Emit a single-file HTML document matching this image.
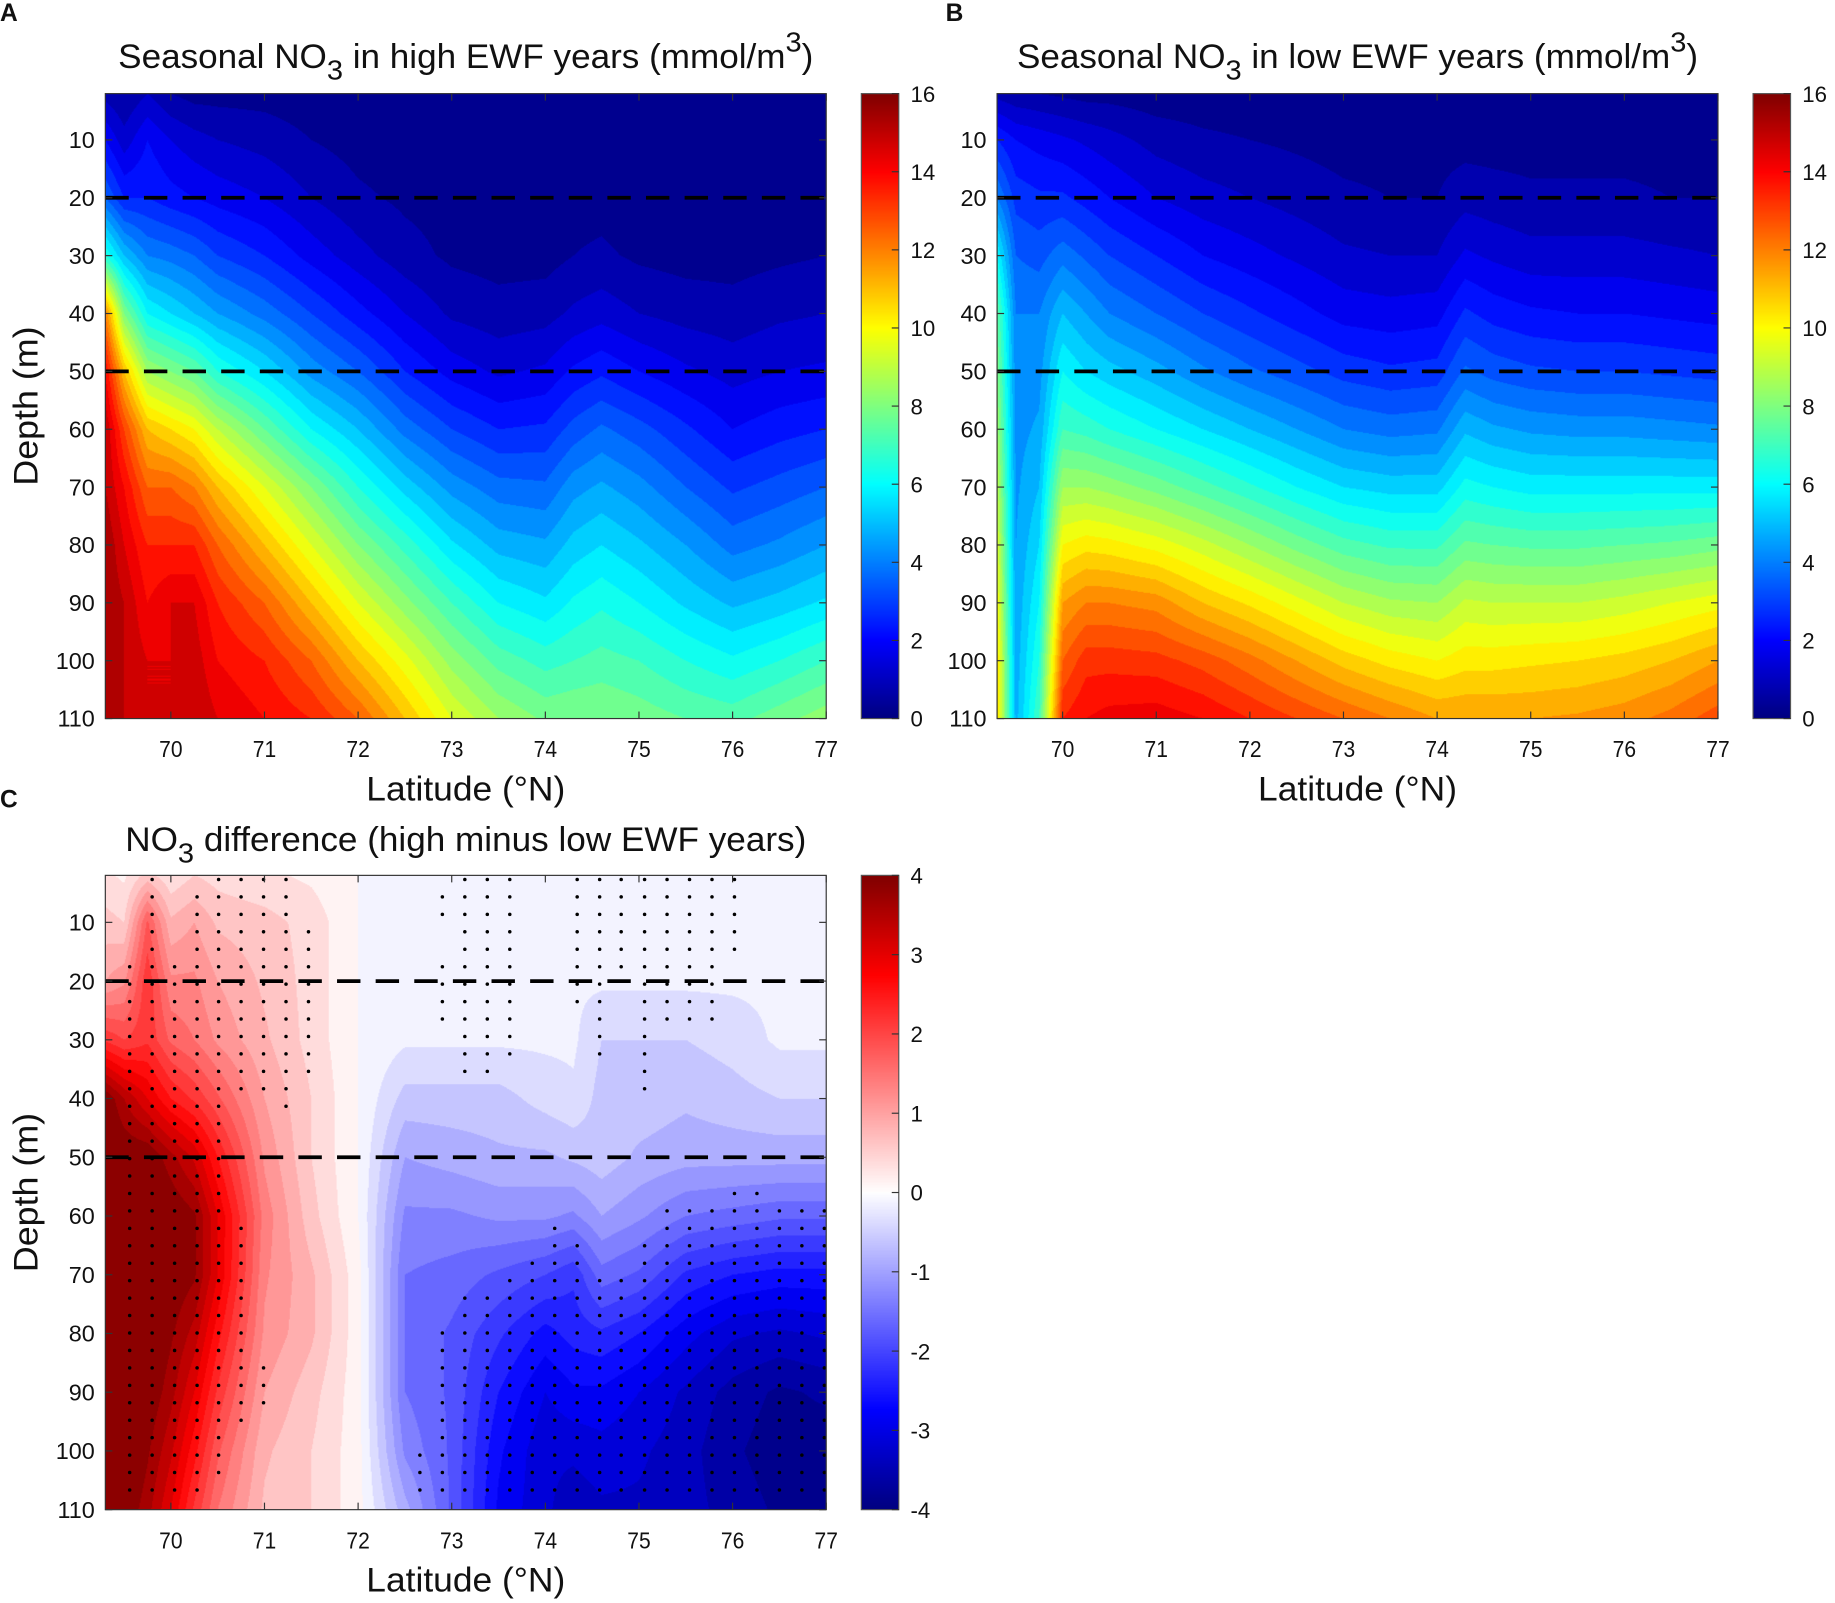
<!DOCTYPE html>
<html><head><meta charset="utf-8">
<style>
html,body{margin:0;padding:0;background:#fff;width:1835px;height:1603px;overflow:hidden}
#wrap{position:absolute;left:0;top:0;width:1568px;height:1370px;transform:scale(1.17028);transform-origin:0 0}
canvas{position:absolute}
svg{position:absolute;left:0;top:0}
text{font-family:"Liberation Sans Narrow","Liberation Sans",sans-serif;fill:#111}
</style></head>
<body>
<div id="wrap">
<canvas id="cA"></canvas>
<canvas id="cB"></canvas>
<canvas id="cC"></canvas>
<canvas id="kA"></canvas>
<canvas id="kB"></canvas>
<canvas id="kC"></canvas>
<svg id="ov" width="1568" height="1370" viewBox="0 0 1568 1370"></svg>
</div>
<script>
// ---- data ----
const lats = [69.3,69.5,69.75,70,70.25,70.5,71,71.5,72,72.5,73,73.5,74,74.3,74.6,75,75.5,76,76.5,77];
const depths = [2,10,20,30,40,50,60,70,80,90,100,110];
const highEWF = [
[0.8,0.5,1.0,0.5,0.3,0.3,0.3,0.2,0.2,0.2,0.2,0.2,0.2,0.2,0.2,0.2,0.2,0.2,0.2,0.2],
[2.0,1.2,2.0,1.5,1.2,1.0,0.8,0.5,0.3,0.2,0.2,0.2,0.2,0.2,0.2,0.2,0.2,0.2,0.2,0.2],
[3.5,2.5,2.5,2.2,2.0,1.8,1.5,1.0,0.6,0.4,0.3,0.2,0.2,0.3,0.3,0.2,0.2,0.2,0.2,0.3],
[6.5,5.0,4.0,3.8,3.5,3.0,2.5,1.8,1.2,0.7,0.4,0.3,0.3,0.5,0.6,0.4,0.3,0.3,0.4,0.5],
[12,8.0,6.0,5.5,5.0,4.5,3.8,3.0,2.2,1.5,0.9,0.7,0.8,1.1,1.3,1.0,0.8,0.7,0.9,1.0],
[14,11,8.5,8.0,7.5,6.5,5.5,4.3,3.5,2.5,1.8,1.4,1.6,2.1,2.4,2.0,1.6,1.3,1.5,1.6],
[15,13,11,10.5,10,9,7.5,6.0,5.0,3.8,3.0,2.5,2.6,3.2,3.6,3.2,2.6,2.0,2.3,2.5],
[15,14,12.5,12.5,12,11,9.5,8.0,6.5,5.3,4.3,3.7,3.6,4.3,4.6,4.2,3.5,2.9,3.2,3.5],
[15.5,14.5,13.5,13.5,13.5,12.5,11,9.5,8.0,6.8,5.6,4.8,4.6,5.2,5.5,5.1,4.5,3.8,4.1,4.5],
[15.5,15,14,14.5,14.5,13.5,12.5,11,9.5,8.2,7.0,6.0,5.6,6.1,6.4,6.0,5.4,4.9,5.2,5.6],
[15.5,15,14.5,14.5,14.8,14,13.5,12.5,11,9.7,8.3,7.3,6.8,7.0,7.2,7.0,6.5,6.1,6.5,7.0],
[15.5,15,14.5,14.5,15,14.5,14,13.5,12.5,11,9.5,8.5,7.9,8.0,8.0,7.8,7.5,7.3,7.8,8.3]];
const lowEWF = [
[0.8,0.6,0.5,0.4,0.3,0.3,0.2,0.2,0.2,0.2,0.2,0.2,0.2,0.2,0.2,0.2,0.2,0.2,0.2,0.2],
[2.5,2.0,1.8,1.6,1.4,1.2,0.8,0.6,0.5,0.4,0.3,0.3,0.3,0.3,0.3,0.3,0.3,0.3,0.3,0.3],
[4.0,2.8,2.6,2.6,2.3,2.0,1.5,1.2,1.0,0.8,0.6,0.5,0.5,0.8,0.7,0.6,0.6,0.6,0.5,0.5],
[6.0,3.5,3.3,3.8,3.4,3.0,2.5,2.0,1.7,1.4,1.1,1.0,1.0,1.6,1.4,1.2,1.2,1.2,1.1,1.0],
[7.5,4.0,4.0,5.0,4.5,4.0,3.5,3.0,2.6,2.2,1.8,1.7,1.8,2.6,2.3,2.1,2.0,2.0,1.9,1.8],
[8.0,4.2,4.3,6.0,5.5,5.2,4.7,4.1,3.6,3.2,2.8,2.6,2.7,3.6,3.3,3.1,3.0,3.0,2.9,2.8],
[8.5,4.3,4.6,7.0,6.8,6.5,6.0,5.5,5.0,4.5,4.0,3.8,3.9,4.9,4.6,4.4,4.3,4.3,4.2,4.1],
[9.0,4.4,5.0,8.5,8.5,8.3,7.8,7.2,6.6,6.0,5.5,5.3,5.3,6.2,6.0,5.8,5.8,5.8,5.8,5.8],
[9.5,4.5,5.5,10,10.3,10.2,9.8,9.2,8.5,7.8,7.2,6.9,6.9,7.6,7.5,7.4,7.4,7.5,7.6,7.8],
[10,4.6,6.0,11.5,12,12,11.8,11,10.4,9.7,9.0,8.6,8.5,9.1,9.0,9.0,9.0,9.2,9.5,9.8],
[10.5,4.7,6.5,12.5,13.3,13.3,13.2,12.8,12.2,11.5,10.8,10.3,10.0,10.3,10.3,10.4,10.5,10.7,11.0,11.5],
[10.5,4.8,7.0,13.5,14.0,14.2,14.3,14,13.5,13,12.5,12,11.5,11.5,11.5,11.5,11.6,11.8,12.2,12.8]];
const diffEWF = [
[0.3,0.2,0.6,0.3,0.5,0.4,0.3,0.2,0.0,-0.2,-0.2,-0.2,-0.2,-0.2,-0.2,-0.2,-0.2,-0.2,-0.2,-0.2],
[0.6,0.5,1.8,0.8,1.0,0.7,0.6,0.4,0.0,-0.2,-0.2,-0.2,-0.2,-0.2,-0.2,-0.2,-0.2,-0.2,-0.2,-0.2],
[1.0,1.2,2.2,1.3,1.3,1.0,0.7,0.4,0.0,-0.2,-0.2,-0.2,-0.2,-0.2,-0.2,-0.2,-0.2,-0.2,-0.2,-0.2],
[2.2,2.0,2.2,1.7,1.5,1.2,0.8,0.4,0.0,-0.2,-0.2,-0.2,-0.2,-0.2,-0.5,-0.5,-0.5,-0.4,-0.2,-0.2],
[4.0,3.5,3.0,2.5,2.2,1.8,1.0,0.5,0.0,-0.6,-0.6,-0.6,-0.4,-0.3,-0.6,-0.6,-0.7,-0.6,-0.5,-0.5],
[4.2,4.0,4.0,3.6,3.2,2.5,1.2,0.5,0.0,-1.0,-0.9,-0.8,-0.8,-0.7,-0.6,-0.8,-0.9,-0.9,-0.9,-0.9],
[4.2,4.2,4.2,4.0,3.8,3.0,1.4,0.6,0.0,-1.3,-1.3,-1.2,-1.2,-1.3,-1.0,-1.2,-1.5,-1.6,-1.7,-1.7],
[4.2,4.2,4.2,4.0,3.8,3.0,1.3,0.8,0.1,-1.5,-1.6,-1.8,-2.0,-2.2,-1.6,-1.8,-2.3,-2.5,-2.6,-2.6],
[4.2,4.2,4.1,3.8,3.4,2.6,1.2,0.8,0.1,-1.5,-1.8,-2.2,-2.6,-2.4,-2.3,-2.5,-2.9,-3.2,-3.3,-3.2],
[4.2,4.2,4.0,3.6,3.0,2.2,1.0,0.6,0.1,-1.5,-1.8,-2.5,-3.0,-2.8,-2.8,-3.0,-3.3,-3.6,-3.8,-3.7],
[4.2,4.2,3.8,3.3,2.6,1.8,0.8,0.5,0.1,-1.3,-1.8,-2.7,-3.2,-3.2,-3.1,-3.2,-3.4,-3.7,-3.9,-3.9],
[4.2,4.0,3.6,3.0,2.2,1.5,0.7,0.5,0.1,-0.9,-1.8,-2.8,-3.2,-3.4,-3.3,-3.3,-3.4,-3.6,-3.8,-3.8]];
// significance stippling: column latitudes and row-index ranges (row depth = 2.7 + 2.97*j)
const dotLats = [69.56,69.80,70.04,70.28,70.51,70.75,70.99,71.23,71.47,72.66,72.90,73.14,73.38,73.62,73.86,74.10,74.34,74.58,74.81,75.06,75.30,75.54,75.78,76.02,76.26,76.50,76.74,76.98];
const dotRanges = [[[5,35]],[[0,35]],[[5,35]],[[1,35]],[[0,34]],[[0,12],[20,31]],[[0,12],[28,30]],[[0,13]],[[3,11]],[[33,35]],[[1,2],[5,8],[26,35]],[[0,11],[24,35]],[[0,11],[24,35]],[[0,10],[23,35]],[[22,35]],[[20,35]],[[0,7],[21,35]],[[0,10],[23,35]],[[0,5],[23,35]],[[0,12],[21,35]],[[0,8],[19,35]],[[0,8],[19,35]],[[0,8],[19,35]],[[0,4],[18,35]],[[18,35]],[[19,35]],[[19,35]],[[19,35]]];
const xTicks = [70,71,72,73,74,75,76,77];
const yTicks = [10,20,30,40,50,60,70,80,90,100,110];
const cbTicksNO3 = [0,2,4,6,8,10,12,14,16];
const cbTicksDiff = [-4,-3,-2,-1,0,1,2,3,4];
const refDepths = [20,50];

// ---- layout ----
const LAT0=69.3, LAT1=77, D0=2, D1=110;
const panels = [
 {id:'A',cv:'cA',kb:'kA',x:90,y:80,w:616,h:534,cbx:736,data:highEWF,vmin:0,vmax:16,step:0.5,cmap:'jet',ticks:cbTicksNO3,letterX:0,letterY:18,
  title:['Seasonal NO','3',' in high EWF years (mmol/m','3',')'],titleY:58,titleW:594},
 {id:'B',cv:'cB',kb:'kB',x:852,y:80,w:616,h:534,cbx:1498,data:lowEWF,vmin:0,vmax:16,step:0.5,cmap:'jet',ticks:cbTicksNO3,letterX:808,letterY:18,
  title:['Seasonal NO','3',' in low EWF years (mmol/m','3',')'],titleY:58,titleW:582},
 {id:'C',cv:'cC',kb:'kC',x:90,y:748,w:616,h:542,cbx:736,data:diffEWF,vmin:-4,vmax:4,step:0.25,cmap:'rb',ticks:cbTicksDiff,letterX:0,letterY:690,
  title:['NO','3',' difference (high minus low EWF years)'],titleY:727,titleW:582,dots:true}
];
function jet(t){t=Math.max(0,Math.min(1,t));
 const f=(a)=>Math.max(0,Math.min(1,1.5-Math.abs(4*t-a)));
 return [f(3),f(2),f(1)];}
function rb(t){const v=t*8-4;const st=[[-4,0,0,0.5],[-2.75,0,0,1],[0,1,1,1],[2.75,1,0,0],[4,0.5,0,0]];
 for(let i=0;i<st.length-1;i++){if(v<=st[i+1][0]){const a=st[i],b=st[i+1];const u=Math.max(0,(v-a[0])/(b[0]-a[0]));
  return [a[1]+(b[1]-a[1])*u,a[2]+(b[2]-a[2])*u,a[3]+(b[3]-a[3])*u];}}
 return [0.5,0,0];}
function idx(arr,v){let i=0;while(i<arr.length-2&&v>arr[i+1])i++;let u=(v-arr[i])/(arr[i+1]-arr[i]);return [i,Math.max(0,Math.min(1,u))];}
function sample(data,lat,d){const [i,u]=idx(lats,lat);const [j,w]=idx(depths,d);
 const a=data[j][i],b=data[j][i+1],c=data[j+1][i],e=data[j+1][i+1];
 return (a*(1-u)+b*u)*(1-w)+(c*(1-u)+e*u)*w;}
const SC=1.2;
panels.forEach(p=>{
 const cv=document.getElementById(p.cv);const W=Math.round(p.w*SC),H=Math.round(p.h*SC);
 cv.width=W;cv.height=H;cv.style.left=p.x+'px';cv.style.top=p.y+'px';cv.style.width=p.w+'px';cv.style.height=p.h+'px';
 const ctx=cv.getContext('2d');const img=ctx.createImageData(W,H);const cm=p.cmap==='jet'?jet:rb;
 const nl=Math.round((p.vmax-p.vmin)/p.step);
 for(let y=0;y<H;y++){const d=D0+(y+0.5)/H*(D1-D0);
  for(let x=0;x<W;x++){const lat=LAT0+(x+0.5)/W*(LAT1-LAT0);let v=sample(p.data,lat,d);
   let k=Math.floor((v-p.vmin)/p.step);k=Math.max(0,Math.min(nl-1,k));
   const c=cm((k+0.5)/nl);const o=(y*W+x)*4;img.data[o]=c[0]*255;img.data[o+1]=c[1]*255;img.data[o+2]=c[2]*255;img.data[o+3]=255;}}
 ctx.putImageData(img,0,0);
 const kb=document.getElementById(p.kb);kb.width=32;kb.height=p.h;kb.style.left=p.cbx+'px';kb.style.top=p.y+'px';kb.style.width='32px';kb.style.height=p.h+'px';
 const kc=kb.getContext('2d');for(let y=0;y<p.h;y++){const c=cm(1-(y+0.5)/p.h);kc.fillStyle=`rgb(${c[0]*255|0},${c[1]*255|0},${c[2]*255|0})`;kc.fillRect(0,y,32,1);}
});
// ---- overlay ----
const NS='http://www.w3.org/2000/svg';const ov=document.getElementById('ov');
function mk(tag,attrs,parent){const e=document.createElementNS(NS,tag);for(const k in attrs)e.setAttribute(k,attrs[k]);(parent||ov).appendChild(e);return e;}
panels.forEach(p=>{
 const g=mk('g',{});
 
 
 const X=lat=>p.x+(lat-LAT0)/(LAT1-LAT0)*p.w;
 const Y=d=>p.y+(d-D0)/(D1-D0)*p.h;
 if(p.dots){dotLats.forEach((la,ci)=>{dotRanges[ci].forEach(r=>{for(let j=r[0];j<=r[1];j++){
  const c=mk('circle',{cx:X(la),cy:Y(2.7+2.97*j),r:1.5,fill:'#000'},g);
  
  }});});}
 refDepths.forEach(d=>{const l=mk('line',{x1:p.x,x2:p.x+p.w,y1:Y(d),y2:Y(d),stroke:'#000','stroke-width':3.2,'stroke-dasharray':'20 13'},g);
  
  });
 const fr=mk('rect',{x:p.x,y:p.y,width:p.w,height:p.h,fill:'none',stroke:'#333','stroke-width':1},g);
 
 
 xTicks.forEach(t=>{const x=X(t);mk('line',{x1:x,x2:x,y1:p.y+p.h,y2:p.y+p.h-6,stroke:'#333'},g);mk('line',{x1:x,x2:x,y1:p.y,y2:p.y+6,stroke:'#333'},g);
  const tx=mk('text',{x:x,y:p.y+p.h+33,'text-anchor':'middle','font-size':20,textLength:20,lengthAdjust:'spacingAndGlyphs'},g);tx.textContent=t;
  
  });
 yTicks.forEach(t=>{const y=Y(t);mk('line',{x1:p.x,x2:p.x+6,y1:y,y2:y,stroke:'#333'},g);mk('line',{x1:p.x+p.w,x2:p.x+p.w-6,y1:y,y2:y,stroke:'#333'},g);
  const tx=mk('text',{x:p.x-9,y:y+7,'text-anchor':'end','font-size':20},g);tx.textContent=t;
  
  });
 const cf=mk('rect',{x:p.cbx,y:p.y,width:32,height:p.h,fill:'none',stroke:'#555'},g);
 
 
 p.ticks.forEach(t=>{const y=p.y+p.h-(t-p.vmin)/(p.vmax-p.vmin)*p.h;
  mk('line',{x1:p.cbx+26,x2:p.cbx+32,y1:y,y2:y,stroke:'#333'},g);
  const tx=mk('text',{x:p.cbx+42,y:y+7,'font-size':19},g);tx.textContent=t;
  
  });
 const tt=mk('text',{x:p.x+p.w/2-p.titleW/2,y:p.titleY,'font-size':29,textLength:p.titleW,lengthAdjust:'spacingAndGlyphs'},g);
 
 
 p.title.forEach((s,i)=>{const ts=mk('tspan',{},tt);
  if(i===1){ts.setAttribute('dy',10);ts.setAttribute('font-size',24);}
  if(i===2){ts.setAttribute('dy',-10);}
  if(i===3){ts.setAttribute('dy',-14);ts.setAttribute('font-size',24);}
  if(i===4){ts.setAttribute('dy',14);}
  ts.textContent=s;});
 const xl=mk('text',{x:p.x+p.w/2-85,y:p.y+p.h+70,'font-size':29,textLength:170,lengthAdjust:'spacingAndGlyphs'},g);xl.textContent='Latitude (°N)';
 
 
 if(p.id!=='B'){const cy=p.y+p.h/2;const yl=mk('text',{x:-68,y:0,'font-size':29,textLength:136,lengthAdjust:'spacingAndGlyphs',transform:`translate(${p.x-58},${cy}) rotate(-90)`},g);yl.textContent='Depth (m)';
  
  }
 const lt=mk('text',{x:p.letterX,y:p.letterY,'font-size':21,'font-weight':'bold'},g);lt.textContent=p.id;
 
 
});
</script>
</body></html>
